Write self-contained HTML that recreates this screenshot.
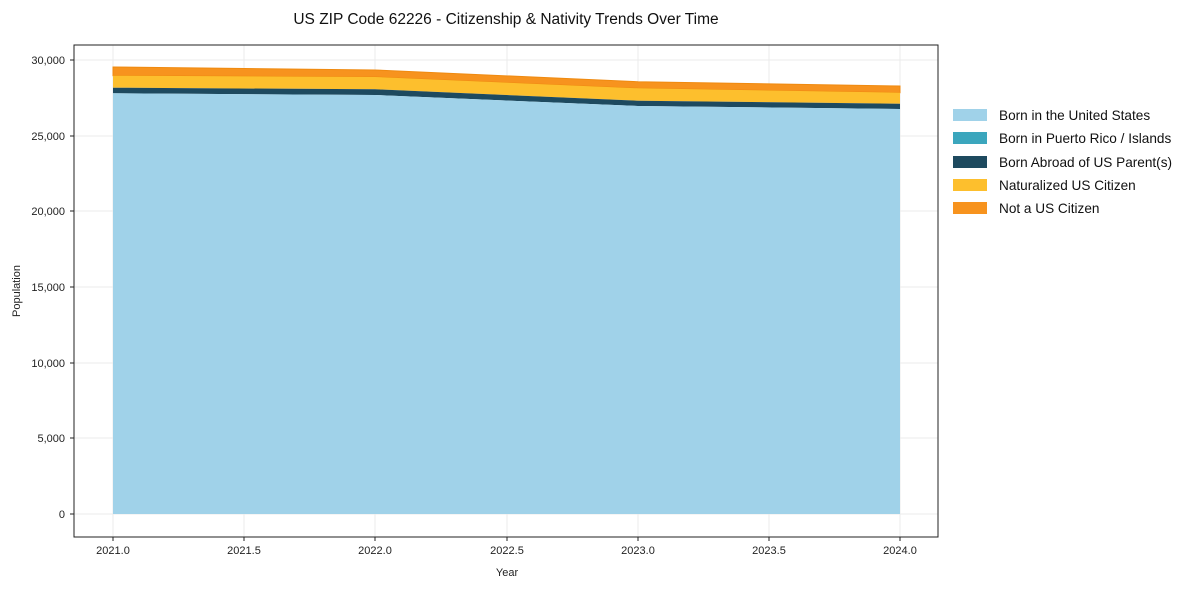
<!DOCTYPE html>
<html><head><meta charset="utf-8"><style>
body{margin:0;background:#fff;font-family:"Liberation Sans",Arial,sans-serif;}
</style></head><body>
<svg width="1189" height="590" xmlns="http://www.w3.org/2000/svg" font-family="Liberation Sans, Arial, sans-serif">
<rect width="1189" height="590" fill="#fff"/>
<text x="506" y="24" font-size="15.5" text-anchor="middle" fill="#111">US ZIP Code 62226 - Citizenship &amp; Nativity Trends Over Time</text>
<g stroke="#ebebeb" stroke-width="1">
<line x1="113" y1="45" x2="113" y2="537"/><line x1="244" y1="45" x2="244" y2="537"/><line x1="375" y1="45" x2="375" y2="537"/><line x1="507" y1="45" x2="507" y2="537"/><line x1="638" y1="45" x2="638" y2="537"/><line x1="769" y1="45" x2="769" y2="537"/><line x1="900" y1="45" x2="900" y2="537"/>
<line x1="74" y1="514" x2="938" y2="514"/><line x1="74" y1="438" x2="938" y2="438"/><line x1="74" y1="363" x2="938" y2="363"/><line x1="74" y1="287" x2="938" y2="287"/><line x1="74" y1="211" x2="938" y2="211"/><line x1="74" y1="136" x2="938" y2="136"/><line x1="74" y1="60" x2="938" y2="60"/>
</g>
<polygon points="113,67 375,70 638,81.7 900,86 900,92.7 638,88.3 375,77 113,75.7" fill="#f7931e" stroke="#ef8a10" stroke-width="1"/>
<polygon points="113,75.7 375,77 638,88.3 900,92.7 900,103.7 638,100.7 375,89.3 113,87.7" fill="#fdbf2d"/>
<polygon points="113,87.7 375,89.3 638,100.7 900,103.7 900,109 638,106 375,95 113,93.3" fill="#1e4a5f"/>
<polygon points="113,93.3 375,95 638,106 900,109 900,514 113,514" fill="#a0d2e9"/>
<rect x="74" y="45" width="864" height="492" fill="none" stroke="#222" stroke-width="1"/>
<g font-size="11" fill="#222" text-anchor="end">
<text x="65" y="518">0</text><text x="65" y="442">5,000</text><text x="65" y="367">10,000</text><text x="65" y="291">15,000</text><text x="65" y="215">20,000</text><text x="65" y="140">25,000</text><text x="65" y="64">30,000</text>
</g>
<g stroke="#222"><line x1="70" y1="514" x2="74" y2="514"/><line x1="70" y1="438" x2="74" y2="438"/><line x1="70" y1="363" x2="74" y2="363"/><line x1="70" y1="287" x2="74" y2="287"/><line x1="70" y1="211" x2="74" y2="211"/><line x1="70" y1="136" x2="74" y2="136"/><line x1="70" y1="60" x2="74" y2="60"/>
<line x1="113" y1="537" x2="113" y2="541"/><line x1="244" y1="537" x2="244" y2="541"/><line x1="375" y1="537" x2="375" y2="541"/><line x1="507" y1="537" x2="507" y2="541"/><line x1="638" y1="537" x2="638" y2="541"/><line x1="769" y1="537" x2="769" y2="541"/><line x1="900" y1="537" x2="900" y2="541"/></g>
<g font-size="11" fill="#222" text-anchor="middle">
<text x="113" y="554">2021.0</text><text x="244" y="554">2021.5</text><text x="375" y="554">2022.0</text><text x="507" y="554">2022.5</text><text x="638" y="554">2023.0</text><text x="769" y="554">2023.5</text><text x="900" y="554">2024.0</text>
<text x="507" y="576" font-size="11">Year</text>
</g>
<text transform="translate(20,291) rotate(-90)" font-size="11" text-anchor="middle" fill="#222">Population</text>
<g font-size="13.6" fill="#111">
<rect x="953" y="109" width="34" height="12" fill="#a0d2e9"/><text x="999" y="120">Born in the United States</text>
<rect x="953" y="132" width="34" height="12" fill="#3ba6bd"/><text x="999" y="143">Born in Puerto Rico / Islands</text>
<rect x="953" y="156" width="34" height="12" fill="#1e4a5f"/><text x="999" y="167">Born Abroad of US Parent(s)</text>
<rect x="953" y="179" width="34" height="12" fill="#fdbf2d"/><text x="999" y="190">Naturalized US Citizen</text>
<rect x="953" y="202" width="34" height="12" fill="#f7931e"/><text x="999" y="213">Not a US Citizen</text>
</g>
</svg>
</body></html>
